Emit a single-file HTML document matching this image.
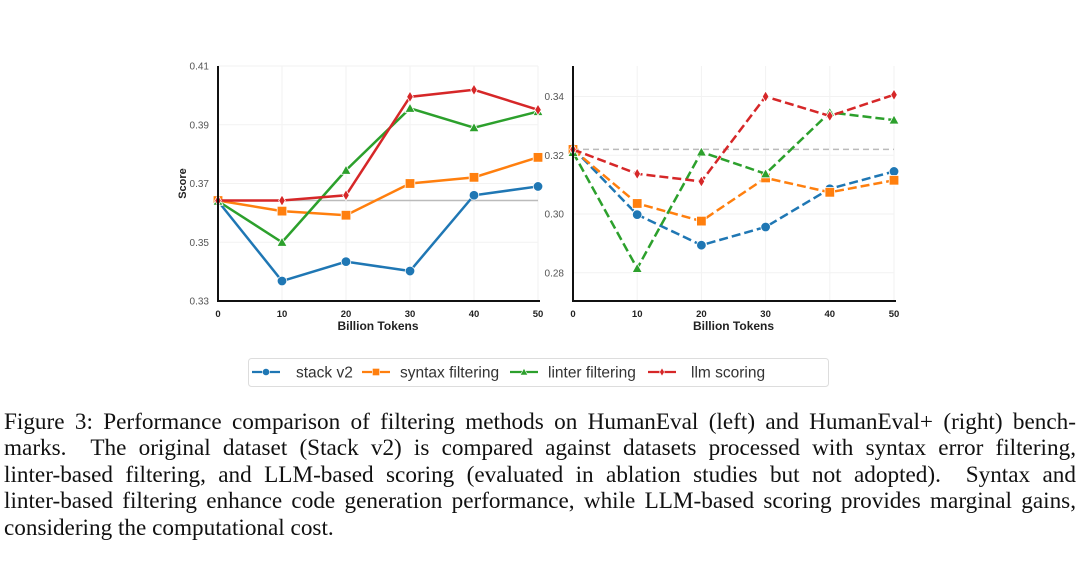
<!DOCTYPE html>
<html><head><meta charset="utf-8">
<style>
body{margin:0;background:#fff;width:1080px;height:580px;overflow:hidden;position:relative;font-family:"Liberation Sans",sans-serif}
#cap{position:absolute;left:4px;top:409px;width:1072px;font-family:"Liberation Serif",serif;font-size:23.2px;line-height:26.4px;color:#111}
#cap div{text-align:justify;text-align-last:justify;white-space:normal}
#cap div.last{text-align-last:left}
</style></head><body>
<svg id="fig" width="1080" height="400" style="position:absolute;left:0;top:0"></svg>
<div id="cap">
<div>Figure 3: Performance comparison of filtering methods on HumanEval (left) and HumanEval+ (right) bench-</div>
<div>marks.&nbsp; The original dataset (Stack v2) is compared against datasets processed with syntax error filtering,</div>
<div>linter-based filtering, and LLM-based scoring (evaluated in ablation studies but not adopted).&nbsp; Syntax and</div>
<div>linter-based filtering enhance code generation performance, while LLM-based scoring provides marginal gains,</div>
<div class="last">considering the computational cost.</div>
</div>
<script>
const xs=[0,10,20,30,40,50];
const seriesNames=["stack v2","syntax filtering","linter filtering","llm scoring"];
const colors=["#1f77b4","#ff7f0e","#2ca02c","#d62728"];
const leftBlue=[0.364,0.3368,0.3434,0.3402,0.366,0.369];
const leftOrange=[0.3642,0.3606,0.3592,0.370,0.3721,0.3789];
const leftGreen=[0.364,0.350,0.3745,0.3956,0.389,0.3945];
const leftRed=[0.3642,0.3642,0.366,0.3995,0.4019,0.3951];
const leftBaseline=0.3642;
const leftTicks=[0.33,0.35,0.37,0.39,0.41];
const rightBlue=[0.3224,0.2998,0.2894,0.2956,0.3086,0.3145];
const rightOrange=[0.322,0.3036,0.2976,0.3123,0.3074,0.3115];
const rightGreen=[0.321,0.2815,0.3211,0.3137,0.3346,0.332];
const rightRed=[0.322,0.3137,0.3111,0.340,0.3334,0.3406];
const rightBaseline=0.322;
const rightTicks=[0.28,0.30,0.32,0.34];
const xTicks=[0,10,20,30,40,50];

const NS="http://www.w3.org/2000/svg";
const svg=document.getElementById('fig');
function mk(tag,attrs,parent){const e=document.createElementNS(NS,tag);for(const k in attrs)e.setAttribute(k,attrs[k]);(parent||svg).appendChild(e);return e;}
function marker(g,kind,x,y,c){
  let m;
  if(kind===0)m=mk('circle',{cx:x,cy:y,r:4.8,fill:c,stroke:'#fff','stroke-width':0.8},g);
  else if(kind===1)m=mk('rect',{x:x-4.8,y:y-4.8,width:9.6,height:9.6,fill:c,stroke:'#fff','stroke-width':0.8},g);
  else if(kind===2)m=mk('polygon',{points:`${x},${y-5} ${x+5},${y+4} ${x-5},${y+4}`,fill:c,stroke:'#fff','stroke-width':0.8},g);
  else m=mk('polygon',{points:`${x},${y-5.5} ${x+3.3},${y} ${x},${y+5.5} ${x-3.3},${y}`,fill:c,stroke:'#fff','stroke-width':0.8},g);
  return m;
}
function panel(name,x0,x1,yTop,yBot,ymin,ymax,data,base,ticks,dashed,showYLabel){
  const g=mk('g',{});
  
  
  const sx=v=>x0+(v-0)/50*(x1-x0);
  const sy=v=>yBot-(v-ymin)/(ymax-ymin)*(yBot-yTop);
  xTicks.forEach(t=>{
    const l=mk('line',{x1:sx(t),x2:sx(t),y1:yTop,y2:yBot,stroke:'#f2f2f2','stroke-width':1},g);
    
    
    const tx=mk('text',{x:sx(t),y:yBot+16,'text-anchor':'middle','font-size':9.5,'font-weight':'bold',fill:'#222'},g);
    tx.textContent=t;
    
    
  });
  ticks.forEach(t=>{
    const l=mk('line',{x1:x0,x2:x1,y1:sy(t),y2:sy(t),stroke:'#f2f2f2','stroke-width':1},g);
    
    
    const tx=mk('text',{x:x0-9,y:sy(t)+3.5,'text-anchor':'end','font-size':10,fill:'#555'},g);
    tx.textContent=t.toFixed(2);
    
    
  });
  const bl=mk('line',{x1:x0,x2:x1,y1:sy(base),y2:sy(base),stroke:'#bbb','stroke-width':1.5,'stroke-dasharray':dashed?'6,4':'none'},g);
  
  
  data.forEach((vals,i)=>{
    const pts=vals.map((v,j)=>sx(xs[j])+','+sy(v)).join(' ');
    const pl=mk('polyline',{points:pts,fill:'none',stroke:colors[i],'stroke-width':2.5,'stroke-dasharray':dashed?'9,4':'none'},g);
    
    
    vals.forEach((v,j)=>{
      const m=marker(g,i,sx(xs[j]),sy(v),colors[i]);
      
      
    });
  });
  const ax=mk('path',{d:`M${x0},${yTop} L${x0},${yBot} L${x1+2},${yBot}`,fill:'none',stroke:'#111','stroke-width':2},g);
  
  
  const xl=mk('text',{x:(x0+x1)/2,y:yBot+29,'text-anchor':'middle','font-size':12,'font-weight':'bold',fill:'#222'},g);
  xl.textContent='Billion Tokens';
  
  
  if(showYLabel){
    const yl=mk('text',{x:0,y:0,transform:`translate(186,${(yTop+yBot)/2}) rotate(-90)`,'text-anchor':'middle','font-size':11,'font-weight':'bold',fill:'#222'},g);
    yl.textContent='Score';
    
    
  }
}
panel('humaneval-chart',218,538,66,301,0.33,0.41,[leftBlue,leftOrange,leftGreen,leftRed],leftBaseline,leftTicks,false,true);
panel('humaneval-plus-chart',573,894,66,301,0.2704,0.3504,[rightBlue,rightOrange,rightGreen,rightRed],rightBaseline,rightTicks,true,false);

const lg=mk('g',{});


const box=mk('rect',{x:248.5,y:358.5,width:580,height:28,rx:3,fill:'#fff',stroke:'#ddd'},lg);


const lx=[252,362,510,648];
const tx=[296,400,548,691];
seriesNames.forEach((n,i)=>{
  const e=mk('g',{},lg);
  
  
  mk('line',{x1:lx[i],x2:lx[i]+28,y1:372,y2:372,stroke:colors[i],'stroke-width':2.3},e);
  marker(e,i,lx[i]+14,372,colors[i]).setAttribute('transform',`translate(${lx[i]+14},372) scale(0.75) translate(${-(lx[i]+14)},-372)`);
  const t=mk('text',{x:tx[i],y:377.5,'font-size':15.5,fill:'#333'},e);
  t.textContent=n;
});
</script>
</body></html>
